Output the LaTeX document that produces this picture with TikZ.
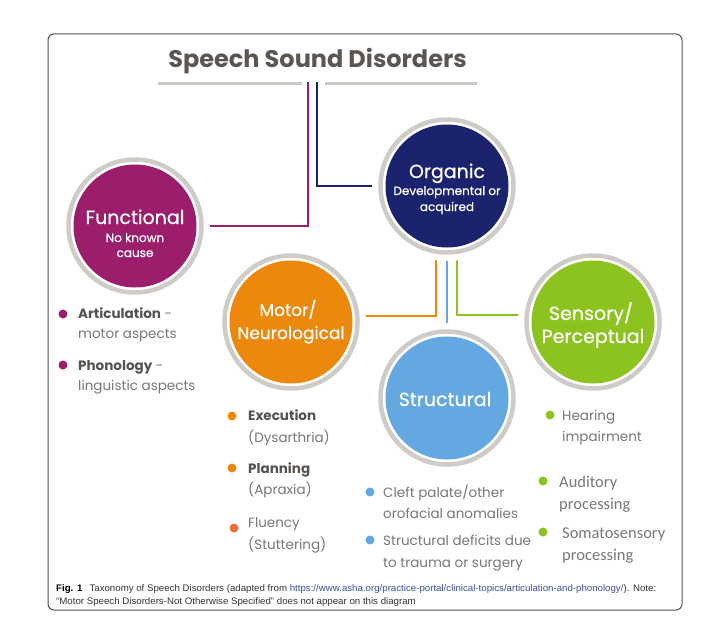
\documentclass[tikz,border=0pt]{standalone}
\usepackage{fontspec}
\usepackage{graphicx}
\setmainfont{Poppins}
\newfontfamily\circfont{Poppins}[FakeBold=0.6]
\newfontfamily\capfont{Liberation Sans}
\newfontfamily\calfont{Carlito}
\usetikzlibrary{calc,backgrounds}
\pgfdeclarelayer{bottom}
\pgfsetlayers{bottom,background,main}
\definecolor{funcC}{HTML}{9C1D6C}
\definecolor{orgC}{HTML}{1B236E}
\definecolor{motC}{HTML}{EC890C}
\definecolor{strC}{HTML}{64A8E1}
\definecolor{senC}{HTML}{8CC31E}
\definecolor{fluC}{HTML}{E8743A}
\definecolor{ringC}{HTML}{CFCBC6}
\definecolor{titleC}{HTML}{5B5652}
\definecolor{tlineC}{HTML}{CCC8C3}
\definecolor{txtdark}{HTML}{55524F}
\definecolor{txtlight}{HTML}{7A7775}
\definecolor{capC}{HTML}{333333}
\definecolor{urlC}{HTML}{3A4FA0}
\definecolor{frameC}{HTML}{505050}
\tikzset{
  disc/.style={circle, minimum size=133pt, inner sep=0pt, draw=ringC, line width=4.5pt,
    fill=white, preaction={draw=white, line width=17pt},
    path picture={\fill[#1] (path picture bounding box.center) circle[radius=61.5pt];}},
  ctitle/.style={inner sep=0pt, anchor=base, text=white, font=\circfont\fontsize{19}{22}\selectfont},
  ctitlesm/.style={inner sep=0pt, anchor=base, text=white, font=\circfont\fontsize{17}{20}\selectfont},
  csub/.style={inner sep=0pt, anchor=base, text=white, font=\circfont\fontsize{12}{14}\selectfont},
  itemt/.style={inner sep=0pt, anchor=base west, text=txtlight, font=\fontsize{13.5}{16}\selectfont},
  itemc/.style={inner sep=0pt, anchor=base west, text=txtlight, font=\calfont\fontsize{16.5}{19}\selectfont},
  bul/.style={circle, inner sep=0pt, minimum size=9pt, fill=#1},
  conn/.style={line width=2pt, draw=#1},
  tline/.style={line width=3pt, draw=tlineC}
}
\newcommand{\hd}[1]{{\bfseries\color{txtdark}#1}}
\begin{document}
\begin{tikzpicture}[x=1pt,y=-1pt]
\begin{pgfonlayer}{bottom}
  \fill[white] (0,0) rectangle (706,634);
\end{pgfonlayer}
\useasboundingbox (0,0) rectangle (706,634);
\draw[draw=frameC, line width=1pt, rounded corners=6pt] (48,34) rectangle (682,610);

% title
\node[inner sep=0pt, anchor=base, text=titleC, font=\bfseries\fontsize{24}{28}\selectfont] (title) at (317.5,67) {Speech Sound Disorders};
\coordinate (gl1) at (158,83); \coordinate (gl2) at (302,83);
\coordinate (gr1) at (325,83); \coordinate (gr2) at (477,83);
\draw[tline] (gl1) -- (gl2);
\draw[tline] (gr1) -- (gr2);
\coordinate (tp) at (308,82);
\coordinate (tb) at (317,82);

% circles
\node[disc=funcC] (func) at (135,226) {};
\node[disc=orgC] (org) at (447,186) {};
\node[disc=motC] (mot) at (291,322) {};
\node[disc=strC] (str) at (447,398) {};
\node[disc=senC] (sen) at (593,322) {};

% connectors
\begin{pgfonlayer}{background}
  \draw[conn=funcC] (tp) |- (func);
  \draw[conn=orgC] (tb) |- (org);
  \draw[conn=motC] ($(org.center)+(-11,0)$) |- ($(mot.center)+(0,-6)$);
  \draw[conn=strC] (org) -- (str);
  \draw[conn=senC] ($(org.center)+(10,0)$) |- ($(sen.center)+(0,-7)$);
\end{pgfonlayer}

% circle labels
\node[ctitle] (funcA) at (135,224) {Functional};
\node[csub] (funcB) at (135,242) {No known};
\node[csub] (funcC2) at (135,257) {cause};
\node[ctitle] (orgA) at (447,178) {Organic};
\node[csub] (orgB) at (447,195) {Developmental or};
\node[csub] (orgC2) at (447,211) {acquired};
\node[ctitlesm] (motA) at (288,316) {Motor/};
\node[ctitlesm] (motB) at (291,339) {Neurological};
\node[ctitle] (senA) at (591,320) {Sensory/};
\node[ctitle] (senB) at (593,343) {Perceptual};
\node[ctitle] (strA) at (445,406) {Structural};

% functional items
\node[bul=funcC] (b1) at (63,314) {};
\node[itemt] (t1a) at (78,318) {\hd{Articulation} -};
\node[itemt] (t1b) at (78,338) {motor aspects};
\node[bul=funcC] (b2) at (63,365) {};
\node[itemt] (t2a) at (78,370) {\hd{Phonology} -};
\node[itemt] (t2b) at (78,390) {linguistic aspects};

% motor items
\node[bul=motC] (b3) at (232,416) {};
\node[itemt] (t3a) at (248,420) {\hd{Execution}};
\node[itemt] (t3b) at (248,442) {(Dysarthria)};
\node[bul=motC] (b4) at (232,468) {};
\node[itemt] (t4a) at (248,473) {\hd{Planning}};
\node[itemt] (t4b) at (248,494) {(Apraxia)};
\node[bul=fluC] (b5) at (234,528) {};
\node[itemt] (t5a) at (248,527) {Fluency};
\node[itemt] (t5b) at (248,549) {(Stuttering)};

% structural items
\node[bul=strC] (b6) at (370,492) {};
\node[itemt] (t6a) at (383,497) {Cleft palate/other};
\node[itemt] (t6b) at (383,518) {orofacial anomalies};
\node[bul=strC] (b7) at (370,540) {};
\node[itemt] (t7a) at (383,545) {Structural deficits due};
\node[itemt] (t7b) at (383,567) {to trauma or surgery};

% sensory items
\node[bul=senC] (b8) at (550,415) {};
\node[itemt] (t8a) at (562,420) {Hearing};
\node[itemt] (t8b) at (562,441) {impairment};
\node[bul=senC] (b9) at (543,481) {};
\node[itemc] (t9a) at (559,487) {Auditory};
\node[itemc] (t9b) at (559,509) {processing};
\node[bul=senC] (b10) at (543,532) {};
\node[itemc] (t10a) at (562,538) {Somatosensory};
\node[itemc] (t10b) at (562,560) {processing};

% caption
\node[anchor=north west, inner sep=0pt, text=capC, font=\capfont\fontsize{9.5}{13}\selectfont] (cap) at (56,582)
  {\resizebox{600pt}{\height}{\begin{tabular}{@{}l@{}}{\bfseries\color{black}Fig. 1}\hspace{7pt}Taxonomy of Speech Disorders (adapted from \textcolor{urlC}{https://www.asha.org/practice-portal/clinical-topics/articulation-and-phonology/}). Note:\\“Motor Speech Disorders-Not Otherwise Specified” does not appear on this diagram\end{tabular}}};
\end{tikzpicture}
\end{document}
